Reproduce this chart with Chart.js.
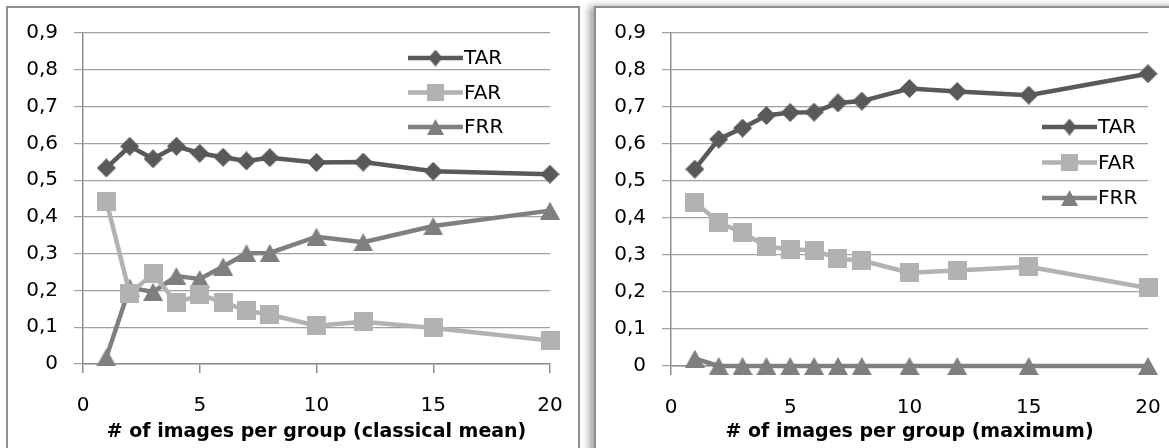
<!DOCTYPE html>
<html>
<head>
<meta charset="utf-8">
<script src="https://cdn.jsdelivr.net/npm/chart.js@4.4.0/dist/chart.umd.min.js"></script>
<style>
  html, body { margin: 0; padding: 0; background: #fff; }
  body { width: 1169px; height: 448px; overflow: hidden; position: relative; }
  .panel { position: absolute; top: 6px; height: 460px; border: 2px solid #8e8e8e; background: #fff; }
  #leftPanel { left: 6px; width: 570px; }
  #rightPanel { left: 594px; width: 600px; box-shadow: -5px 0 7px rgba(0, 0, 0, 0.35); }
  .panel canvas { position: absolute; left: 0; top: 0; }
</style>
</head>
<body>
<div class="panel" id="leftPanel"><canvas id="meanChart" width="570" height="440"></canvas></div>
<div class="panel" id="rightPanel"><canvas id="maxChart" width="573" height="440"></canvas></div>
<script>
// number of images per group
const groupSizes = [1, 2, 3, 4, 5, 6, 7, 8, 10, 12, 15, 20];

// classical mean
const meanTAR = [0.533, 0.592, 0.558, 0.592, 0.573, 0.562, 0.552, 0.561, 0.548, 0.549, 0.524, 0.516];
const meanFAR = [0.443, 0.192, 0.245, 0.166, 0.188, 0.168, 0.145, 0.134, 0.104, 0.115, 0.098, 0.064];
const meanFRR = [0.018, 0.208, 0.196, 0.239, 0.231, 0.265, 0.301, 0.302, 0.346, 0.331, 0.375, 0.417];

// maximum
const maxTAR = [0.532, 0.613, 0.643, 0.677, 0.685, 0.686, 0.711, 0.716, 0.750, 0.742, 0.732, 0.790];
const maxFAR = [0.443, 0.388, 0.360, 0.323, 0.315, 0.313, 0.290, 0.285, 0.252, 0.258, 0.268, 0.211];
const maxFRR = [0.020, 0, 0, 0, 0, 0, 0, 0, 0, 0, 0, 0];

const seriesNames = ['TAR', 'FAR', 'FRR'];
const xTicks = [0, 5, 10, 15, 20];
const yTicks = [0, 0.1, 0.2, 0.3, 0.4, 0.5, 0.6, 0.7, 0.8, 0.9];

const colors = ['#595959', '#b2b2b2', '#7f7f7f'];
const FONT = '"DejaVu Sans", sans-serif';

// marker sprites, centred on the data point
function marker(shape, w, h, color) {
  const c = document.createElement('canvas');
  c.width = w; c.height = h;
  const g = c.getContext('2d');
  g.fillStyle = color;
  g.beginPath();
  if (shape === 'diamond') {
    g.moveTo(w / 2, 0); g.lineTo(w, h / 2); g.lineTo(w / 2, h); g.lineTo(0, h / 2);
  } else if (shape === 'triangle') {
    g.moveTo(w / 2, 0); g.lineTo(w, h); g.lineTo(0, h);
  } else {
    g.rect(0, 0, w, h);
  }
  g.closePath();
  g.fill();
  return c;
}
const markers = [
  marker('diamond', 19, 19, colors[0]),
  marker('square', 19, 19, colors[1]),
  marker('triangle', 20, 18, colors[2])
];
const legendMarkers = [
  marker('diamond', 14, 17, colors[0]),
  marker('square', 17, 17, colors[1]),
  marker('triangle', 17, 16, colors[2])
];

// legend drawn inside the plot area: line sample with marker, then label
const insideLegend = {
  id: 'insideLegend',
  afterDatasetsDraw(chart, args, opts) {
    const ctx = chart.ctx;
    const area = chart.chartArea;
    ctx.save();
    ctx.font = '20px ' + FONT;
    ctx.textBaseline = 'middle';
    ctx.fillStyle = '#000';
    chart.data.datasets.forEach((ds, i) => {
      const y = area.top + opts.top + i * opts.gap;
      const x0 = area.right - opts.right;
      const x1 = x0 + opts.lineLen;
      ctx.strokeStyle = ds.borderColor;
      ctx.lineWidth = 4.5;
      ctx.beginPath();
      ctx.moveTo(x0, y);
      ctx.lineTo(x1, y);
      ctx.stroke();
      const m = legendMarkers[i];
      ctx.drawImage(m, (x0 + x1) / 2 - m.width / 2, y - m.height / 2);
      ctx.fillText(ds.label, x1 + 1, y + 1);
    });
    ctx.restore();
  }
};

function toPoints(values) {
  return values.map((v, i) => ({ x: groupSizes[i], y: v }));
}

function decimalComma(v) {
  return v === 0 ? '0' : v.toFixed(1).replace('.', ',');
}

function makeChart(id, series, title, legendOpts, padRight, xHeight) {
  return new Chart(document.getElementById(id), {
    type: 'line',
    data: {
      datasets: series.map((vals, i) => ({
        label: seriesNames[i],
        data: toPoints(vals),
        borderColor: colors[i],
        backgroundColor: colors[i],
        borderWidth: 4.5,
        pointStyle: markers[i],
        tension: 0,
        clip: false
      }))
    },
    options: {
      responsive: false,
      animation: false,
      layout: { padding: { left: 0, right: padRight, top: 25, bottom: 0 } },
      plugins: {
        legend: { display: false },
        tooltip: { enabled: false },
        insideLegend: legendOpts
      },
      scales: {
        x: {
          type: 'linear',
          min: 0,
          max: 20,
          afterBuildTicks: s => { s.ticks = xTicks.map(v => ({ value: v })); },
          afterFit: s => { s.height = xHeight; s.paddingLeft = 0; s.paddingRight = 0; },
          grid: { drawOnChartArea: false, drawTicks: true, tickLength: 9, color: '#8e8e8e', lineWidth: 1.5 },
          border: { display: true, color: '#8e8e8e', width: 1.5 },
          ticks: { padding: 21, color: '#000', font: { family: FONT, size: 20 }, maxRotation: 0 },
          title: {
            display: true,
            text: title,
            color: '#000',
            font: { family: FONT, size: 19, weight: 'bold' },
            padding: { top: 0, bottom: 5 }
          }
        },
        y: {
          min: 0,
          max: 0.9,
          afterBuildTicks: s => { s.ticks = yTicks.map(v => ({ value: v })); },
          afterFit: s => { s.width = 75; s.paddingTop = 0; s.paddingBottom = 0; },
          grid: { color: '#a0a0a0', lineWidth: 1.2, drawTicks: true, tickLength: 9 },
          border: { display: true, color: '#8e8e8e', width: 1.5 },
          ticks: {
            padding: 16,
            color: '#000',
            font: { family: FONT, size: 20 },
            callback: v => decimalComma(v)
          }
        }
      }
    },
    plugins: [insideLegend]
  });
}

makeChart('meanChart', [meanTAR, meanFAR, meanFRR],
  '# of images per group (classical mean)',
  { top: 25, gap: 34.5, right: 142, lineLen: 55 }, 28, 84);

makeChart('maxChart', [maxTAR, maxFAR, maxFRR],
  '# of images per group (maximum)',
  { top: 94, gap: 35.5, right: 106, lineLen: 55 }, 21, 82);
</script>
</body>
</html>
